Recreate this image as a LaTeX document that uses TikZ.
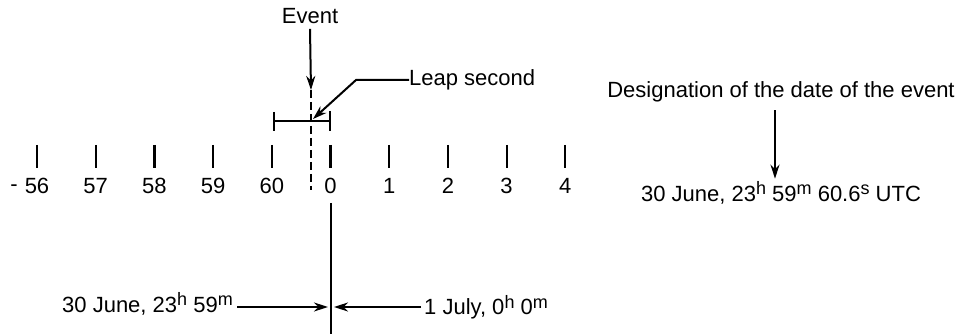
\documentclass[tikz,border=0pt]{standalone}
\usepackage{fontspec}
\setmainfont{Liberation Sans}
\usetikzlibrary{arrows.meta,calc}

\newcommand{\hi}[1]{\raisebox{0.55ex}{\fontsize{18}{20}\selectfont #1}}

\tikzset{
    txt/.style={inner sep=0pt, font=\fontsize{22}{26}\selectfont},
    pointer/.style={line width=2pt, -{Stealth[length=14pt,width=9pt]}},
    tick/.style={line width=2.2pt}
}

\begin{document}
\begin{tikzpicture}[x=1pt, y=-1pt]
    \useasboundingbox (0,0) rectangle (962,334);
    % time scale
    \foreach \lab [count=\i from 0] in {56,57,58,59,60,0,1,2,3,4}{
        \coordinate (ta\i) at (37+58.7*\i,145);
        \coordinate (tb\i) at (37+58.7*\i,168);
        \draw[tick] (ta\i) -- (tb\i);
        \node[txt] (n\i) at (37+58.7*\i,186) {\lab};
    }
    \node[txt] (dash) at (14,188) {-};
    % leap second interval
    \coordinate (lsl) at (274,121);
    \coordinate (lsr) at (330,121);
    \draw[line width=2pt] (lsl) -- (lsr);
    \draw[line width=2pt] ($(lsl)+(0,-9)$) -- ($(lsl)+(0,10)$);
    \draw[line width=2pt] ($(lsr)+(0,-10)$) -- ($(lsr)+(0,10)$);
    % event
    \node[txt] (event) at (310,16) {Event};
    \coordinate (evtop) at (311,90);
    \coordinate (evbot) at (311,190);
    \draw[line width=2pt, dash pattern=on 8pt off 4pt] (evtop) -- (evbot);
    \draw[pointer] ($(event.south)+(0,5)$) -- (evtop);
    \node[txt, anchor=west] (leap) at (409,80) {Leap second};
    \coordinate (leapknee) at (356,80);
    \coordinate (leaptip) at (313,119);
    \draw[pointer] (leap.west) -- (leapknee) -- (leaptip);
    % boundary of days
    \coordinate (btop) at (331,203);
    \coordinate (bbot) at (331,334);
    \draw[line width=2.2pt] (btop) -- (bbot);
    \node[txt, anchor=east] (june) at (233,304) {30 June, 23\hi{h} 59\hi{m}};
    \node[txt, anchor=west] (july) at (424,307) {1 July, 0\hi{h} 0\hi{m}};
    \coordinate (junetip) at (328,307);
    \coordinate (julytip) at (334,307);
    \draw[pointer] ($(june.east |- junetip)+(4,0)$) -- (junetip);
    \draw[pointer] ($(july.west)+(-3,0)$) -- (julytip);
    % designation
    \node[txt] (desig) at (781,92) {Designation of the date of the event};
    \node[txt] (utc) at (781,193) {30 June, 23\hi{h} 59\hi{m} 60.6\hi{s} UTC};
    \draw[pointer] ($(desig.south)+(-6,8)$) -- ($(utc.north)+(-6,-3)$);
\end{tikzpicture}
\end{document}
